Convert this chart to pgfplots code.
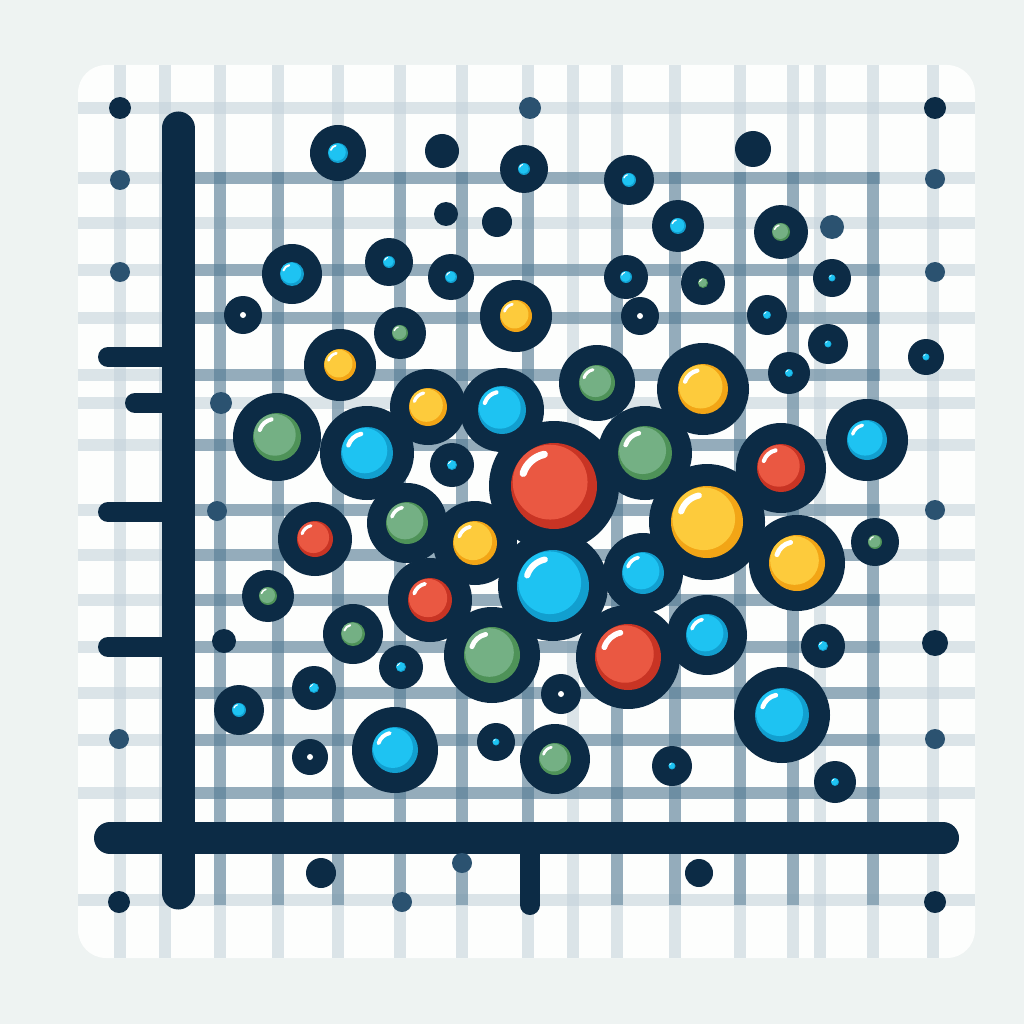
\documentclass[border=0pt]{standalone}
\usepackage{pgfplots}
\pgfplotsset{compat=1.18}
\usepackage{pgfplotstable}

\definecolor{navy}{HTML}{0C2B45}
\definecolor{slate}{HTML}{2B5270}
\definecolor{paper}{HTML}{EEF3F2}
\definecolor{card}{HTML}{FDFEFD}
\definecolor{gridlt}{HTML}{C5D3DB}
\definecolor{griddk}{HTML}{4E7690}
\definecolor{bblue}{HTML}{1EC3F2}
\definecolor{bblueS}{HTML}{129FCF}
\definecolor{bgreen}{HTML}{74B084}
\definecolor{bgreenS}{HTML}{4E9258}
\definecolor{byellow}{HTML}{FDCB3C}
\definecolor{byellowS}{HTML}{F2A516}
\definecolor{bred}{HTML}{EA5842}
\definecolor{bredS}{HTML}{C83424}

% plain filled discs
\pgfdeclareplotmark{ring}{\pgfsetfillcolor{navy}\pgfpathcircle{\pgfpointorigin}{\pgfplotmarksize}\pgfusepathqfill}
\pgfdeclareplotmark{sdot}{\pgfsetfillcolor{slate}\pgfpathcircle{\pgfpointorigin}{\pgfplotmarksize}\pgfusepathqfill}
\pgfdeclareplotmark{wdot}{\pgfsetfillcolor{white}\pgfpathcircle{\pgfpointorigin}{\pgfplotmarksize}\pgfusepathqfill}

% glossy core: shade, main colour, white highlight
\newcommand\bubblemark[3]{%
  \pgfdeclareplotmark{#1}{%
    \pgfsetfillcolor{#3}%
    \pgfpathcircle{\pgfpointorigin}{\pgfplotmarksize}\pgfusepathqfill
    \pgfsetfillcolor{#2}%
    \pgfpathcircle{\pgfpoint{-0.09\pgfplotmarksize}{0.09\pgfplotmarksize}}{0.87\pgfplotmarksize}\pgfusepathqfill
    \pgfsetstrokecolor{white}%
    \pgfsetroundcap
    \pgfsetlinewidth{0.17\pgfplotmarksize}%
    \pgfpathmoveto{\pgfpointadd{\pgfpoint{-0.09\pgfplotmarksize}{0.09\pgfplotmarksize}}{\pgfpointpolar{102}{0.66\pgfplotmarksize}}}%
    \pgfpatharc{102}{162}{0.66\pgfplotmarksize}%
    \pgfusepathqstroke
  }}
\bubblemark{bubblue}{bblue}{bblueS}
\bubblemark{bubgreen}{bgreen}{bgreenS}
\bubblemark{bubyellow}{byellow}{byellowS}
\bubblemark{bubred}{bred}{bredS}

\pgfplotsset{
  sized/.style={scatter, only marks, mark=#1,
    scatter/@pre marker code/.append style={/tikz/mark size=\rad}},
  ringplot/.style={sized=ring, visualization depends on={\thisrow{R}\as\rad}},
  coreplot/.style={sized=#1, visualization depends on={\thisrow{r}\as\rad}},
}

% x y (pixels from top-left), R outer radius, r core radius
\pgfplotstableread{
x y R r
338 153 28 10
292 274 30 12
389 262 24 6
451 277 23 6
524 169 24 6
629 180 25 7
678 226 26 8
626 277 22 6
767 315 20 4
828 344 20 3.5
789 373 21 4
926 357 18 3.5
832 278 19 3.5
367 453 47 26
502 410 42 24
452 465 22 5
867 440 41 20
553 586 55 36
643 573 40 21
707 635 40 21
401 667 22 5
823 646 22 5
314 688 22 5
239 710 25 7
395 750 43 23
496 742 19 3.5
672 766 20 3.5
782 715 48 27
835 782 21 4
}\tblue

\pgfplotstableread{
x y R r
400 333 26 8
703 283 22 5
781 232 27 9
277 437 44 24
597 383 38 18
645 453 47 27
407 523 40 21
268 596 26 9
353 634 30 12
492 655 48 28
555 759 35 16
875 542 24 7
}\tgreen

\pgfplotstableread{
x y R r
340 365 36 16
516 316 36 16
428 407 38 19
703 389 46 25
475 543 42 22
707 522 58 36
797 563 48 28
}\tyellow

\pgfplotstableread{
x y R r
554 486 65 43
781 468 45 24
315 539 37 18
430 600 42 22
628 657 52 33
}\tred

\pgfplotstableread{
x y R r
243 315 19 3
640 316 19 3
310 757 18 3
561 694 20 3
}\tblank

\pgfplotstableread{
x y R
442 151 17
753 149 18
446 214 12
497 222 15
224 641 12
321 873 15
699 873 14
935 643 13
120 108 11
935 108 11
119 902 11
935 902 11
}\tdots

\pgfplotstableread{
x y R
530 108 11
120 180 10
120 272 10
935 179 10
935 272 10
832 227 12
221 403 11
217 511 10
935 510 10
119 739 10
935 739 10
462 863 10
402 902 10
}\tslate

\begin{document}
\begin{tikzpicture}
\begin{axis}[
  width=1024pt, height=1024pt, scale only axis,
  xmin=0, xmax=1024, ymin=0, ymax=1024, y dir=reverse,
  hide axis, unbounded coords=jump,
]
% page and card
\addplot[fill=paper, draw=none] coordinates {(0,0) (1024,0) (1024,1024) (0,1024)} -- cycle;
\addplot[fill=card, draw=none, rounded corners=28pt] coordinates {(78,65) (975,65) (975,958) (78,958)} -- cycle;

% light grid
\addplot[gridlt, opacity=0.6, line width=12pt, no marks] table {
x y
120 65
120 958
nan nan
165 65
165 958
nan nan
220 65
220 958
nan nan
278 65
278 958
nan nan
338 65
338 958
nan nan
400 65
400 958
nan nan
462 65
462 958
nan nan
528 65
528 958
nan nan
573 65
573 958
nan nan
617 65
617 958
nan nan
675 65
675 958
nan nan
740 65
740 958
nan nan
793 65
793 958
nan nan
820 65
820 958
nan nan
873 65
873 958
nan nan
933 65
933 958
};
\addplot[gridlt, opacity=0.6, line width=12pt, no marks] table {
x y
78 108
975 108
nan nan
78 178
975 178
nan nan
78 223
975 223
nan nan
78 270
975 270
nan nan
78 318
975 318
nan nan
78 375
975 375
nan nan
78 403
975 403
nan nan
78 445
975 445
nan nan
78 510
975 510
nan nan
78 555
975 555
nan nan
78 600
975 600
nan nan
78 647
975 647
nan nan
78 693
975 693
nan nan
78 740
975 740
nan nan
78 793
975 793
nan nan
78 900
975 900
};
% darker inner grid
\addplot[griddk, opacity=0.5, line width=12pt, no marks] table {
x y
220 172
220 905
nan nan
278 172
278 905
nan nan
338 172
338 905
nan nan
400 172
400 905
nan nan
462 172
462 905
nan nan
528 172
528 905
nan nan
617 172
617 905
nan nan
675 172
675 905
nan nan
740 172
740 905
nan nan
793 172
793 905
nan nan
873 172
873 905
};
\addplot[griddk, opacity=0.5, line width=12pt, no marks] table {
x y
195 178
880 178
nan nan
195 270
880 270
nan nan
195 318
880 318
nan nan
195 375
880 375
nan nan
195 445
880 445
nan nan
195 510
880 510
nan nan
195 555
880 555
nan nan
195 600
880 600
nan nan
195 647
880 647
nan nan
195 693
880 693
nan nan
195 740
880 740
nan nan
195 793
880 793
};

% axis ticks and lines
\addplot[navy, line width=20pt, line cap=round, no marks] table {
x y
108 357
178 357
nan nan
135 403
178 403
nan nan
108 512
178 512
nan nan
108 647
178 647
nan nan
530 838
530 905
};
\addplot[navy, line width=33pt, line cap=round, no marks] coordinates {(178,128) (178,893)};
\addplot[navy, line width=32pt, line cap=round, no marks] coordinates {(110,838) (943,838)};

% loose dots
\addplot[ringplot] table {\tdots};
\addplot[sized=sdot, visualization depends on={\thisrow{R}\as\rad}] table {\tslate};

% bubble rings
\addplot[ringplot] table {\tblue};
\addplot[ringplot] table {\tgreen};
\addplot[ringplot] table {\tyellow};
\addplot[ringplot] table {\tred};
\addplot[ringplot] table {\tblank};

% bubble cores
\addplot[coreplot=bubblue] table {\tblue};
\addplot[coreplot=bubgreen] table {\tgreen};
\addplot[coreplot=bubyellow] table {\tyellow};
\addplot[coreplot=bubred] table {\tred};
\addplot[coreplot=wdot] table {\tblank};
\end{axis}
\end{tikzpicture}
\end{document}
